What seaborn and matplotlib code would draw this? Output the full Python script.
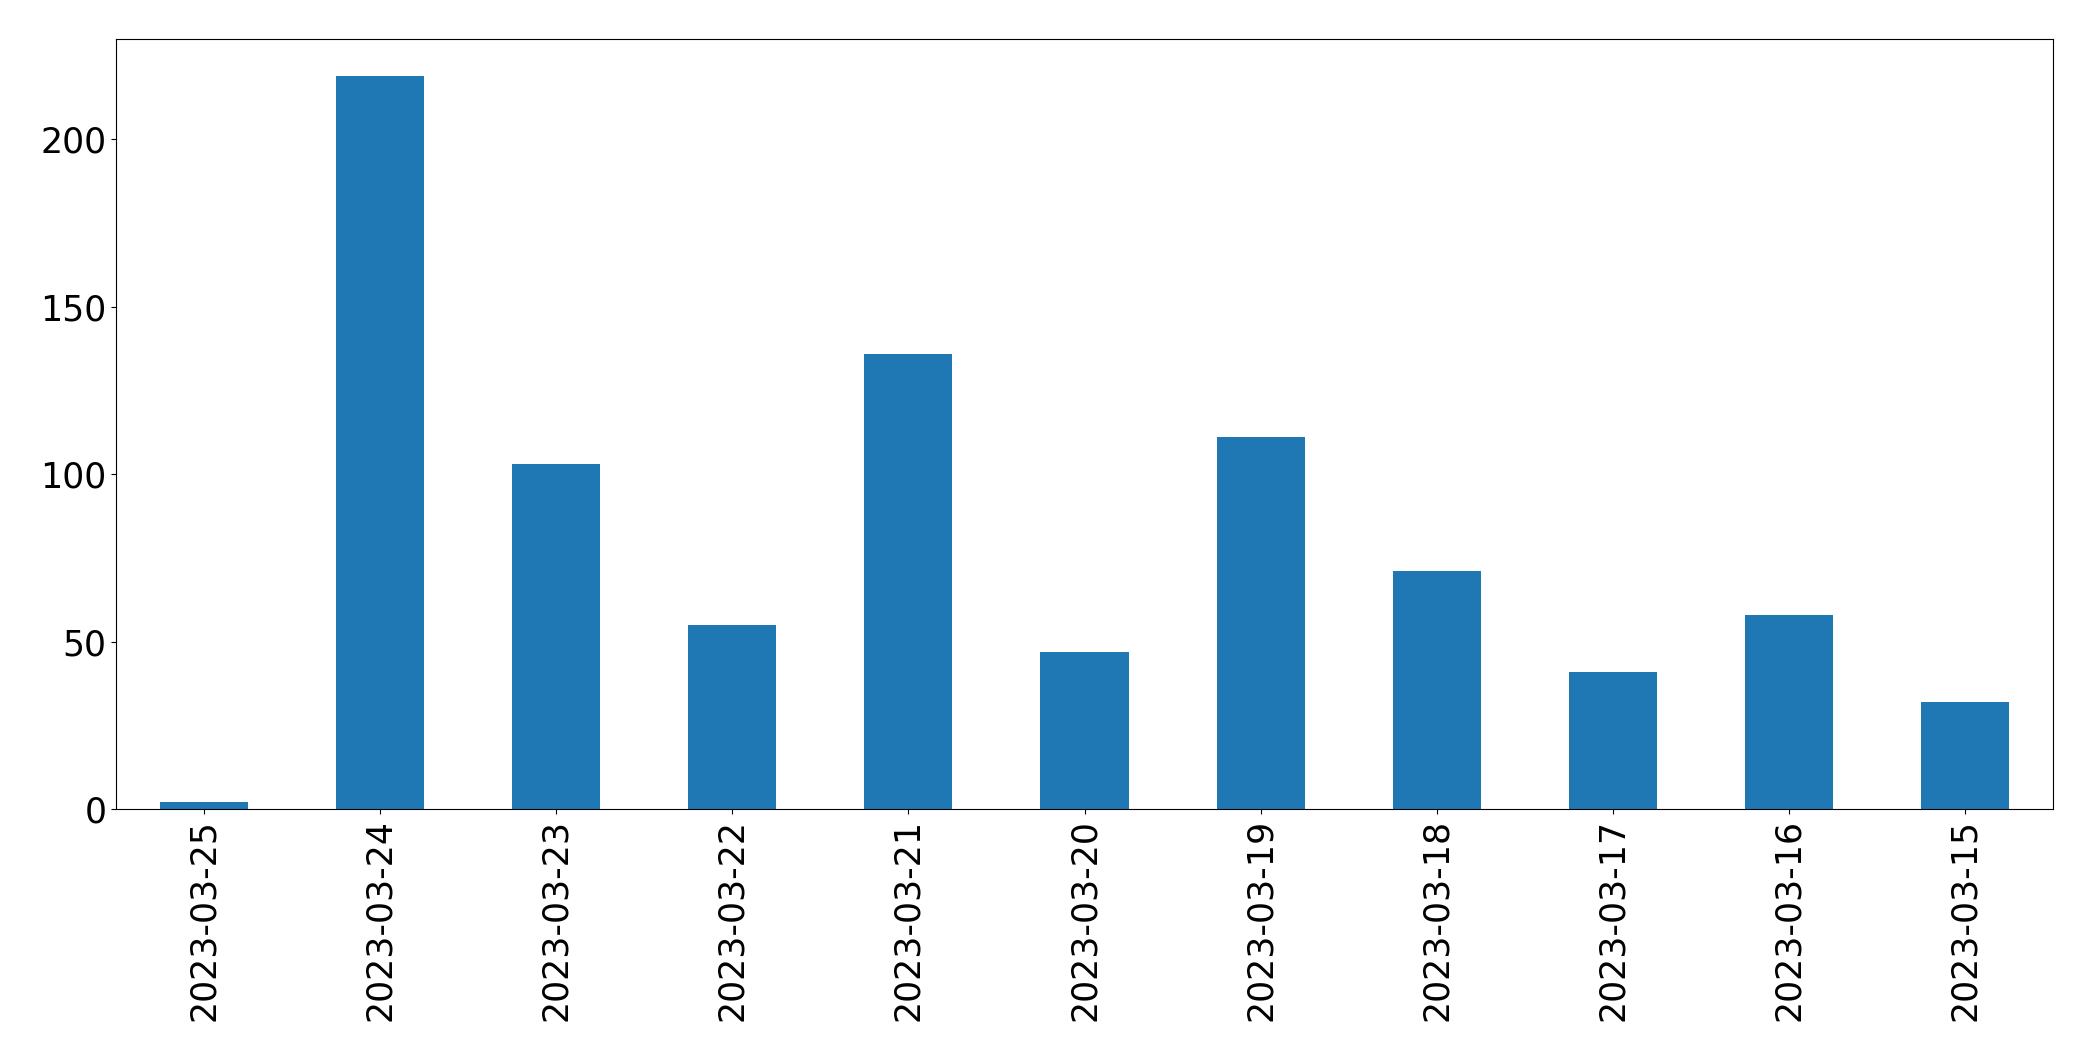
import matplotlib
matplotlib.use("Agg")
import matplotlib.pyplot as plt
import seaborn as sns
import pandas as pd

dates = ["2023-03-25", "2023-03-24", "2023-03-23", "2023-03-22", "2023-03-21",
         "2023-03-20", "2023-03-19", "2023-03-18", "2023-03-17", "2023-03-16",
         "2023-03-15"]
counts = [2, 219, 103, 55, 136, 47, 111, 71, 41, 58, 32]

df = pd.DataFrame({"date": dates, "count": counts})

fig = plt.figure(figsize=(20.93, 10.61), dpi=100)
ax = fig.add_axes([116 / 2093, 1 - 809 / 1061, (2053 - 116) / 2093, (809 - 39) / 1061])
sns.barplot(data=df, x="date", y="count", order=dates, color="#1f77b4",
            saturation=1, width=0.5, linewidth=0, ax=ax)
ax.set_xlim(-0.5, len(dates) - 0.5)
ax.set_ylim(0, max(counts) * 1.05)
ax.set_xlabel("")
ax.set_ylabel("")
ax.tick_params(axis="both", labelsize=25)
ax.tick_params(axis="x", labelrotation=90)
fig.savefig("out.png", dpi=100)
